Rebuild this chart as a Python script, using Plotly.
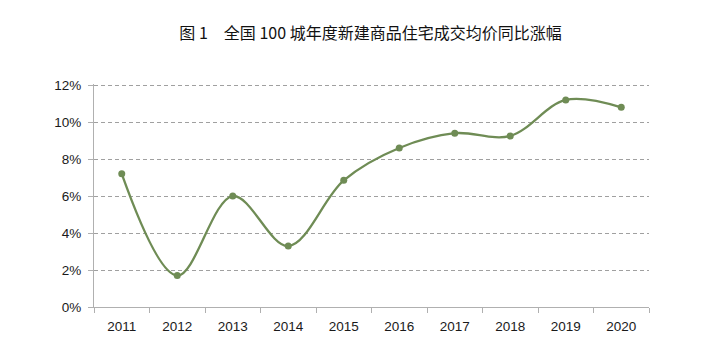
import plotly.graph_objects as go

years = ["2011", "2012", "2013", "2014", "2015", "2016", "2017", "2018", "2019", "2020"]
growth = [7.2, 1.7, 6.0, 3.3, 6.85, 8.6, 9.4, 9.25, 11.2, 10.8]
y_ticks = [0, 2, 4, 6, 8, 10, 12]
y_tick_labels = ["0%", "2%", "4%", "6%", "8%", "10%", "12%"]
title_text = "图 1　全国 100 城年度新建商品住宅成交均价同比涨幅"

fig = go.Figure()
fig.add_trace(go.Scatter(
    x=years, y=growth, mode="lines+markers",
    line=dict(color="#6f8c55", width=2.3, shape="spline", smoothing=1.0),
    marker=dict(color="#6f8c55", size=7),
    hoverinfo="skip", showlegend=False,
))

fig.update_layout(
    width=725, height=357,
    margin=dict(l=86, r=84, t=76, b=58),
    paper_bgcolor="white", plot_bgcolor="white",
    title=dict(text=title_text, x=0.5, xanchor="center", y=0.93, yanchor="middle",
               font=dict(family="Noto Sans CJK SC", size=16, color="#111")),
    font=dict(family="Liberation Sans, Arial", size=13, color="#222"),
)
fig.update_xaxes(
    type="category", range=[-0.5, 9.5],
    showline=True, linecolor="#b0b0b0", linewidth=1,
    ticks="outside", tickson="boundaries", ticklen=5, tickcolor="#b0b0b0",
    ticklabelstandoff=7,
    showgrid=False, tickfont=dict(size=13.5, color="#1a1a1a"),
)
fig.update_yaxes(
    range=[0, 12.06], tickvals=y_ticks, ticktext=y_tick_labels,
    showline=True, linecolor="#b0b0b0", linewidth=1,
    ticks="outside", ticklen=5, tickcolor="#b0b0b0",
    ticklabelstandoff=4,
    showgrid=True, gridcolor="#a0a0a0", griddash="4px,3px", gridwidth=1,
    zeroline=False, tickfont=dict(size=13.5, color="#1a1a1a"),
)
fig.write_html("out.html")
